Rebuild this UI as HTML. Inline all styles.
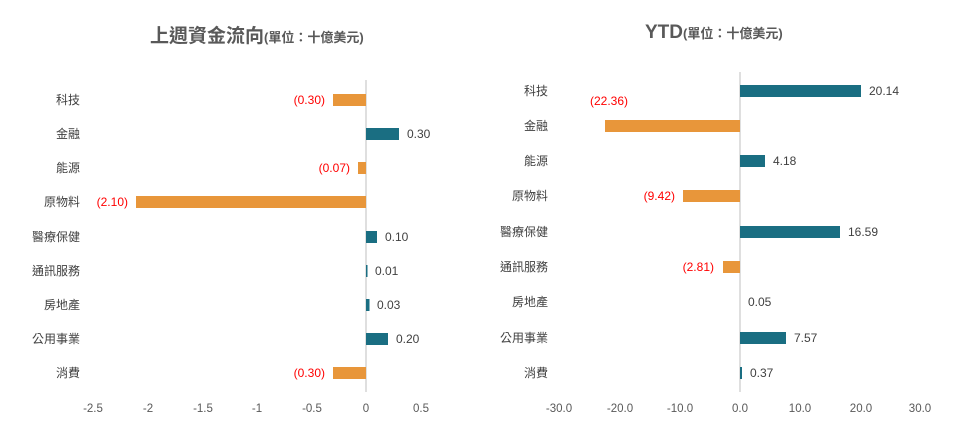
<!DOCTYPE html>
<html><head><meta charset="utf-8"><style>
body{margin:0;background:#fff;}
svg{display:block;font-family:"Liberation Sans","Noto Sans CJK TC",sans-serif;}
.c{font-size:12px;fill:#404040;text-anchor:end;}
.v{font-size:12px;fill:#404040;}
.r{font-size:12px;fill:#ff0000;}
.t{font-size:11.5px;fill:#595959;text-anchor:middle;}
</style></head><body>
<svg width="953" height="434" viewBox="0 0 953 434">
<!-- Left chart -->
<text x="150" y="42" font-size="19" font-weight="bold" fill="#595959">上週資金流向<tspan font-size="13">(單位：十億美元)</tspan></text>
<line x1="366" y1="80" x2="366" y2="392" stroke="#bfbfbf"/>
<g class="c">
<text x="80" y="104">科技</text><text x="80" y="138">金融</text><text x="80" y="172">能源</text>
<text x="80" y="206">原物料</text><text x="80" y="241">醫療保健</text><text x="80" y="275">通訊服務</text>
<text x="80" y="309">房地產</text><text x="80" y="343">公用事業</text><text x="80" y="377">消費</text>
</g>
<rect x="333" y="94" width="33" height="12" fill="#e8963a"/>
<rect x="366" y="128" width="33" height="12" fill="#1a6e82"/>
<rect x="358" y="162" width="8" height="12" fill="#e8963a"/>
<rect x="136" y="196" width="230" height="12" fill="#e8963a"/>
<rect x="366" y="231" width="11" height="12" fill="#1a6e82"/>
<rect x="366" y="265" width="1.5" height="12" fill="#1a6e82"/>
<rect x="366" y="299" width="3.5" height="12" fill="#1a6e82"/>
<rect x="366" y="333" width="22" height="12" fill="#1a6e82"/>
<rect x="333" y="367" width="33" height="12" fill="#e8963a"/>
<text class="r" x="325" y="104" text-anchor="end">(0.30)</text>
<text class="v" x="407" y="138">0.30</text>
<text class="r" x="350" y="172" text-anchor="end">(0.07)</text>
<text class="r" x="128" y="206" text-anchor="end">(2.10)</text>
<text class="v" x="385" y="241">0.10</text>
<text class="v" x="375" y="275">0.01</text>
<text class="v" x="377" y="309">0.03</text>
<text class="v" x="396" y="343">0.20</text>
<text class="r" x="325" y="377" text-anchor="end">(0.30)</text>
<g class="t">
<text x="93" y="412">-2.5</text><text x="148" y="412">-2</text><text x="203" y="412">-1.5</text>
<text x="257" y="412">-1</text><text x="312" y="412">-0.5</text><text x="366" y="412">0</text><text x="421" y="412">0.5</text>
</g>
<!-- Right chart -->
<text x="645" y="38" font-size="19" font-weight="bold" fill="#595959">YTD<tspan font-size="13">(單位：十億美元)</tspan></text>
<line x1="740" y1="72" x2="740" y2="392" stroke="#bfbfbf"/>
<g class="c">
<text x="548" y="95">科技</text><text x="548" y="130">金融</text><text x="548" y="165">能源</text>
<text x="548" y="200">原物料</text><text x="548" y="236">醫療保健</text><text x="548" y="271">通訊服務</text>
<text x="548" y="306">房地產</text><text x="548" y="342">公用事業</text><text x="548" y="377">消費</text>
</g>
<rect x="740" y="85" width="121" height="12" fill="#1a6e82"/>
<rect x="605" y="120" width="135" height="12" fill="#e8963a"/>
<rect x="740" y="155" width="25" height="12" fill="#1a6e82"/>
<rect x="683" y="190" width="57" height="12" fill="#e8963a"/>
<rect x="740" y="226" width="100" height="12" fill="#1a6e82"/>
<rect x="723" y="261" width="17" height="12" fill="#e8963a"/>
<rect x="740" y="332" width="46" height="12" fill="#1a6e82"/>
<rect x="740" y="367" width="2" height="12" fill="#1a6e82"/>
<text class="v" x="869" y="95">20.14</text>
<text class="r" x="628" y="105" text-anchor="end">(22.36)</text>
<text class="v" x="773" y="165">4.18</text>
<text class="r" x="675" y="200" text-anchor="end">(9.42)</text>
<text class="v" x="848" y="236">16.59</text>
<text class="r" x="714" y="271" text-anchor="end">(2.81)</text>
<text class="v" x="748" y="306">0.05</text>
<text class="v" x="794" y="342">7.57</text>
<text class="v" x="750" y="377">0.37</text>
<g class="t">
<text x="559" y="412">-30.0</text><text x="620" y="412">-20.0</text><text x="680" y="412">-10.0</text>
<text x="740" y="412">0.0</text><text x="800" y="412">10.0</text><text x="861" y="412">20.0</text><text x="920" y="412">30.0</text>
</g>
</svg>
</body></html>
